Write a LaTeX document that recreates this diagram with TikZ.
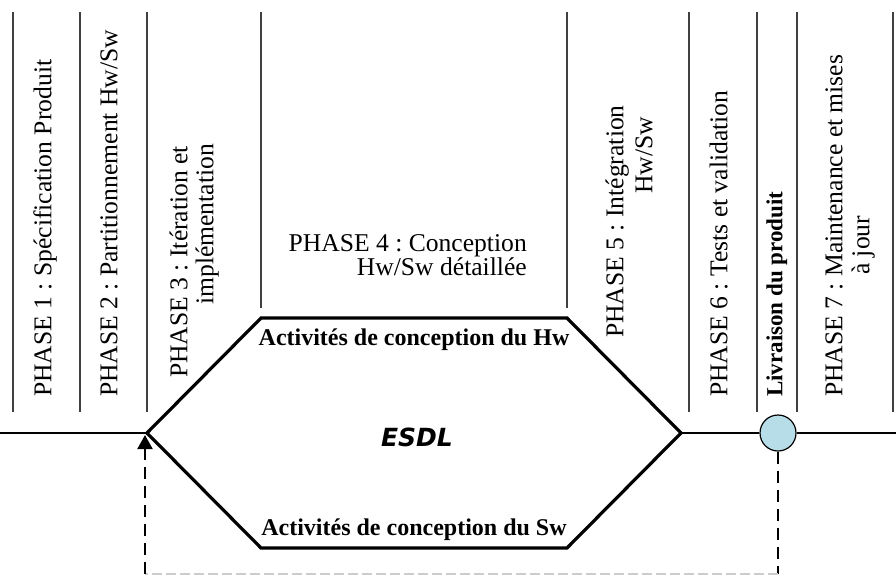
\documentclass[tikz,border=0pt]{standalone}
\usepackage{fontspec}
\setmainfont{Liberation Serif}
\newfontfamily\esdlfont{DejaVu Sans}
\usetikzlibrary{arrows.meta}
\definecolor{livblue}{HTML}{B7DEE8}
\frenchspacing
\begin{document}
\begin{tikzpicture}[x=1pt,y=-1pt,
  sepline/.style={draw=black!75, line width=1.1pt},
  phase/.style={rotate=90, anchor=mid west, inner sep=0pt, font=\fontsize{25.6}{28}\selectfont},
  phasebold/.style={rotate=90, anchor=mid west, inner sep=0pt, font=\fontsize{23}{26}\selectfont\bfseries},
  hexline/.style={line width=3.2pt, line join=miter},
  mainline/.style={line width=2.6pt},
  dashline/.style={line width=2pt, dash pattern=on 12pt off 7pt},
  actlabel/.style={inner sep=0pt, font=\fontsize{24}{26}\selectfont\bfseries}]
\useasboundingbox (0,0) rectangle (896,576);
% separators
\foreach \x in {13,80,147,689,757,797,893} \draw[sepline] (\x,12) -- (\x,412);
\foreach \x in {261,567} \draw[sepline] (\x,12) -- (\x,308);
% phase labels
\node[phase] (p1) at (49,397) {PHASE 1 : Spécification Produit};
\node[phase] (p2) at (115,397) {PHASE 2 : Partitionnement Hw/Sw};
\node[phase] (p3a) at (185,378) {PHASE 3 : Itération et};
\node[phase] (p3b) at (211,305) {implémentation};
\node[inner sep=0pt, anchor=base east, align=right, font=\fontsize{25.6}{23.5}\selectfont] (p4) at (527,275) {PHASE 4 : Conception\\Hw/Sw détaillée};
\node[phase] (p5a) at (621,338) {PHASE 5 : Intégration};
\node[phase] (p5b) at (650,194) {Hw/Sw};
\node[phase] (p6) at (725,397) {PHASE 6 : Tests et validation};
\node[phasebold] (pl) at (780,397) {Livraison du produit};
\node[phase] (p7a) at (840,397) {PHASE 7 : Maintenance et mises};
\node[phase] (p7b) at (867,275) {à jour};
% hexagon
\coordinate (hl) at (147,433);
\coordinate (htl) at (261,318);
\coordinate (htr) at (567,318);
\coordinate (hr) at (681,433);
\coordinate (hbr) at (567,548);
\coordinate (hbl) at (261,548);
\draw[hexline] (hl) -- (htl) -- (htr) -- (hr) -- (hbr) -- (hbl) -- cycle;
\node[actlabel] (hw) at (414,340) {Activités de conception du Hw};
\node[actlabel] (sw) at (414,530) {Activités de conception du Sw};
\node[inner sep=0pt, font=\esdlfont\fontsize{25}{26}\selectfont\bfseries\itshape] (esdl) at (417,437) {ESDL};
% main line
\coordinate (start) at (0,433);
\coordinate (end) at (896,433);
\node[circle, draw, line width=1.2pt, fill=livblue, minimum size=36pt, inner sep=0pt] (liv) at (778,433) {};
\draw[mainline] (start) -- (hl);
\draw[mainline] (hr) -- (liv.west);
\draw[mainline] (liv.east) -- (end);
% feedback loop
\coordinate (dbr) at (778,574);
\coordinate (dbl) at (145,574);
\coordinate (tip) at (145,435);
\draw[dashline] (liv.south) -- (dbr);
\draw[dashline, draw=black!20, line width=1.5pt, dash pattern=on 10pt off 4pt] (dbr) -- (dbl);
\draw[dashline, -{Triangle[length=14pt,width=15pt]}] (dbl) -- (tip);
\end{tikzpicture}
\end{document}
